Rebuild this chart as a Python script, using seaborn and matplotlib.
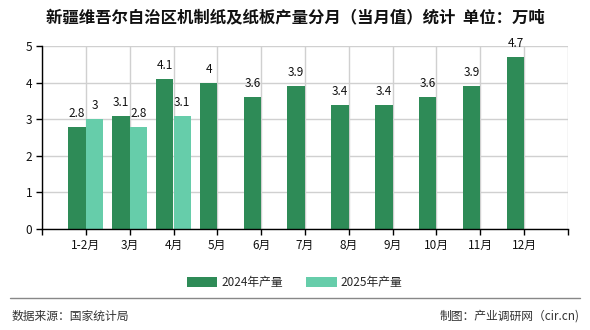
import matplotlib
matplotlib.use("Agg")
import matplotlib.pyplot as plt
import seaborn as sns
import pandas as pd
import numpy as np

months = ["1-2月", "3月", "4月", "5月", "6月", "7月", "8月", "9月", "10月", "11月", "12月"]
v2024 = [2.8, 3.1, 4.1, 4.0, 3.6, 3.9, 3.4, 3.4, 3.6, 3.9, 4.7]
v2025 = [3.0, 2.8, 3.1, None, None, None, None, None, None, None, None]
series = ["2024年产量", "2025年产量"]
colors = ["#2E8B57", "#66CDAA"]

sns.set_theme(style="white")
plt.rcParams['font.family'] = ['Noto Sans CJK SC', 'DejaVu Sans']

df = pd.DataFrame({
    "月份": months * 2,
    "产量": v2024 + v2025,
    "系列": [series[0]] * len(months) + [series[1]] * len(months),
})

fig = plt.figure(figsize=(5.9, 3.3), dpi=100)
ax = fig.add_axes([42/590, 1 - 229/330, (568-42)/590, (229-46)/330])

sns.barplot(data=df, x="月份", y="产量", hue="系列", palette=colors, ax=ax,
            width=0.8, saturation=1, dodge=True, legend=True, linewidth=0)

ax.set_xlim(-1, len(months))
ax.set_ylim(0, 5)
ax.set_yticks([0, 1, 2, 3, 4, 5])
ax.set_xticks(np.arange(-1, len(months) + 1))
ax.set_xticklabels([""] + months + [""])
ax.set_xlabel("")
ax.set_ylabel("")
ax.grid(True, color="#d0d0d0", linewidth=1)
ax.set_axisbelow(True)
for s in ["top", "right"]:
    ax.spines[s].set_visible(False)
ax.spines["left"].set_color("black")
ax.spines["bottom"].set_color("black")
ax.spines["left"].set_linewidth(1)
ax.spines["bottom"].set_linewidth(1)
ax.tick_params(axis="both", which="both", length=4, width=1, color="black",
               labelsize=8.5, labelcolor="#111111", direction="out",
               bottom=True, left=True, pad=3)

for cont in ax.containers:
    labels = []
    for v in cont.datavalues:
        if v is None or np.isnan(v):
            labels.append("")
        else:
            labels.append(f"{v:g}")
    ax.bar_label(cont, labels=labels, padding=5, fontsize=8.5, color="#111111")

leg = ax.legend(loc="upper center", bbox_to_anchor=(0.48, -0.2), ncol=2,
                frameon=False, fontsize=8.5, handlelength=2.6, handleheight=0.9,
                columnspacing=2.0, handletextpad=0.3)

fig.text(0.5, 1 - 18/330, "新疆维吾尔自治区机制纸及纸板产量分月（当月值）统计  单位：万吨",
         ha="center", va="center", fontsize=11.8, fontweight="bold", color="#111111")
fig.add_artist(plt.Line2D([10/590, 580/590], [1 - 298/330, 1 - 298/330],
                          color="#888888", linewidth=1))
fig.text(12/590, 1 - 316/330, "数据来源：国家统计局", ha="left", va="center",
         fontsize=8.5, color="#333333")
fig.text(580/590, 1 - 316/330, "制图：产业调研网（cir.cn)", ha="right", va="center",
         fontsize=8.5, color="#333333")

fig.savefig("out.png", dpi=100)
